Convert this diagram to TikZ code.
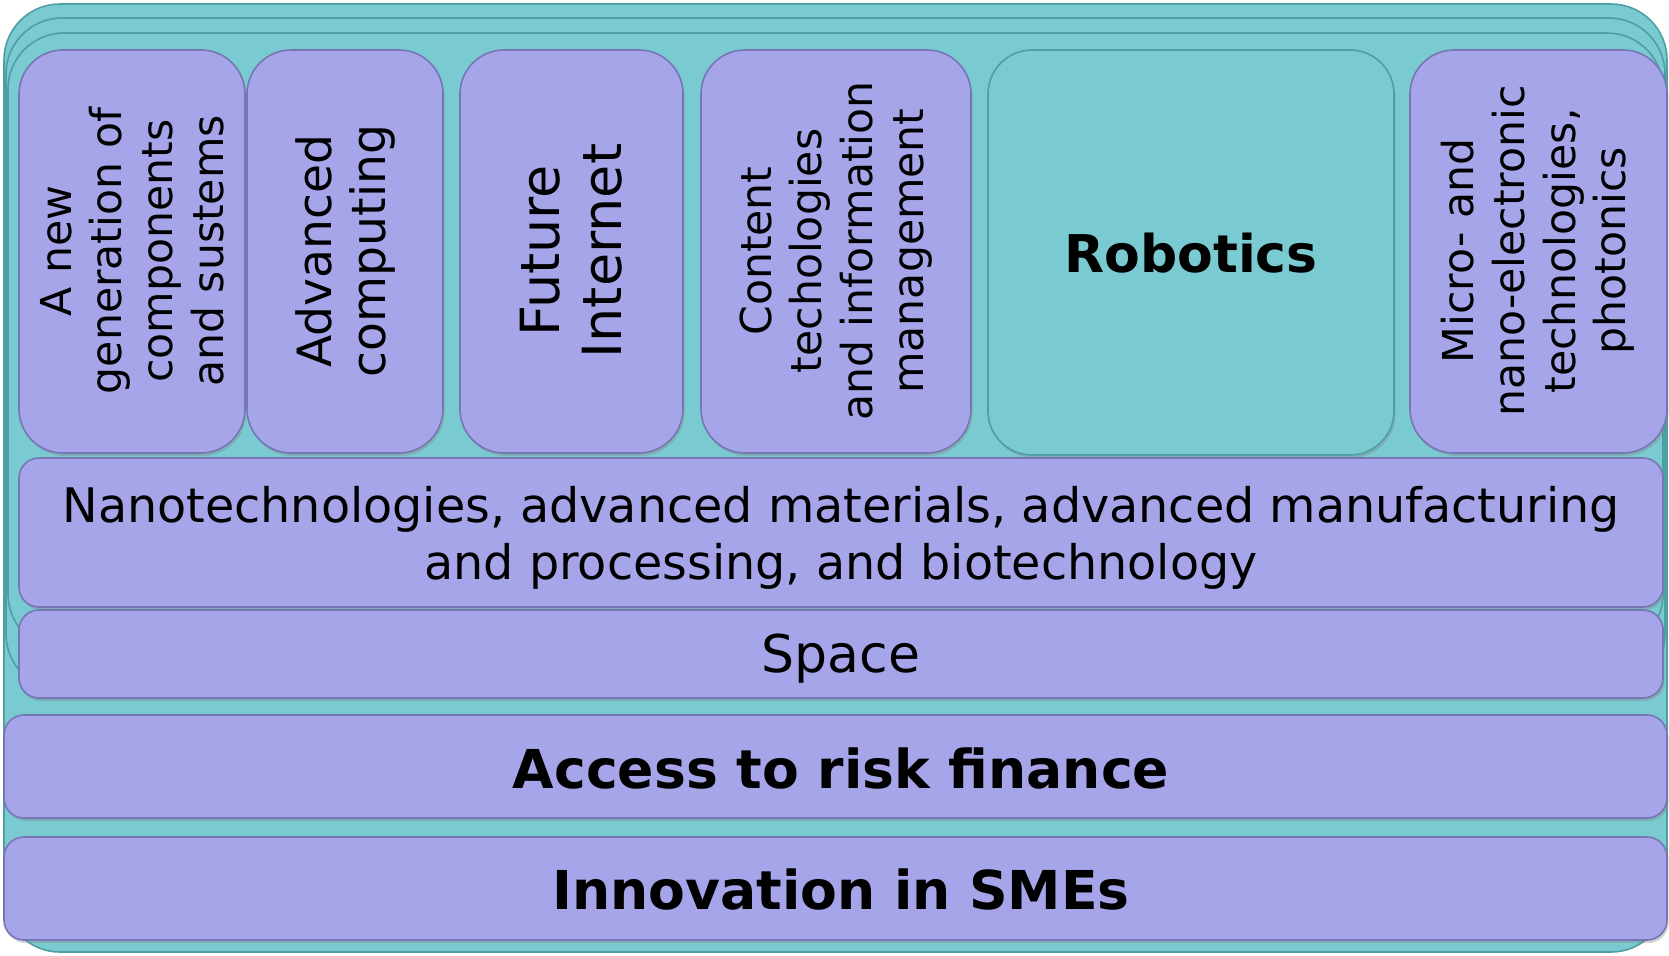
\documentclass[tikz,border=0pt]{standalone}
\usepackage{fontspec}
\setmainfont{DejaVu Sans}
\usetikzlibrary{shadows}
\definecolor{tealfill}{HTML}{7ACBD1}
\definecolor{tealline}{HTML}{4E9FA4}
\definecolor{lavfill}{HTML}{A6A5E9}
\definecolor{lavline}{HTML}{7776B4}

\begin{document}
\begin{tikzpicture}[x=0.5pt,y=-0.5pt,
  frame/.style={fill=tealfill, draw=tealline, line width=0.8pt, rounded corners=28pt},
  box/.style={fill=lavfill, draw=lavline, line width=0.8pt, rounded corners=22pt,
    drop shadow={opacity=0.35, shadow xshift=0.8pt, shadow yshift=-1.5pt}},
  bar/.style={box, rounded corners=10pt},
  vtext/.style={rotate=90, align=center, font=\fontsize{21.3}{25.4}\selectfont},
  htext/.style={align=center, font=\fontsize{23.8}{28.5}\selectfont},
  btext/.style={font=\fontsize{26.8}{30}\selectfont\bfseries}]

  \useasboundingbox (0,0) rectangle (1669,955);

  % teal frames
  \draw[frame] (4,4) rectangle (1667,952);
  \draw[frame] (6,18) rectangle (1665,690);
  \draw[frame] (8,33) rectangle (1663,650);

  % technology columns
  \draw[box] (19,50) rectangle (245,453);
  \draw[box] (247,50) rectangle (443,453);
  \draw[box] (460,50) rectangle (683,453);
  \draw[box] (701,50) rectangle (971,453);
  \draw[box, fill=tealfill, draw=tealline] (988,50) rectangle (1394,455);
  \draw[box] (1410,50) rectangle (1667,453);

  \node[vtext] (gen) at (132,251) {A new\\generation of\\components\\and sustems};
  \node[vtext, font=\fontsize{23.6}{27}\selectfont] (comp) at (345,251) {Advanced\\computing};
  \node[vtext, font=\fontsize{27}{31}\selectfont] (fi) at (571,251) {Future\\Internet};
  \node[vtext] (content) at (836,251) {Content\\techologies\\and information\\management};
  \node[btext, font=\fontsize{26}{30}\selectfont\bfseries] (robo) at (1191,253) {Robotics};
  \node[vtext] (micro) at (1538,251) {Micro- and\\nano-electronic\\technologies,\\photonics};

  % horizontal layers
  \draw[bar] (19,458) rectangle (1663,607);
  \draw[bar] (19,610) rectangle (1663,698);
  \draw[bar] (4,715) rectangle (1667,818);
  \draw[bar] (4,837) rectangle (1667,940);

  \node[htext] (nano) at (841,538) {Nanotechnologies, advanced materials, advanced manufacturing\\and processing, and biotechnology};
  \node[htext, font=\fontsize{26}{30}\selectfont] (space) at (841,659) {Space};
  \node[btext] (risk) at (841,768) {Access to risk finance};
  \node[btext] (sme) at (841,889) {Innovation in SMEs};
\end{tikzpicture}
\end{document}
